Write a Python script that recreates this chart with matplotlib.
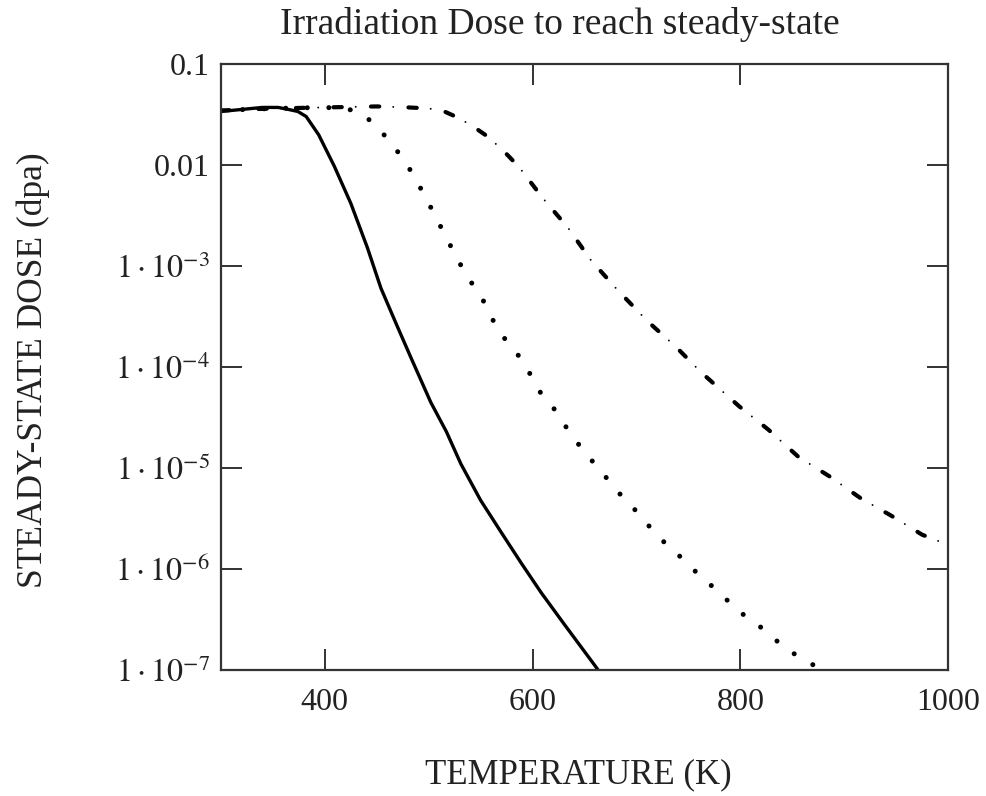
import numpy as np
import matplotlib
matplotlib.use("Agg")
import matplotlib.pyplot as plt
from matplotlib.ticker import FixedLocator, FixedFormatter

plt.rcParams['font.family'] = ['Liberation Serif', 'DejaVu Serif']
plt.rcParams['mathtext.fontset'] = 'stix'

# curve data (temperature in K, log10 of dose in dpa)
t_solid = [300, 320, 340, 355, 365, 374, 382, 394, 409, 425, 441, 454, 469, 483, 502,
           517, 531, 550, 570, 589, 608, 630, 661, 670]
logd_solid = [-1.47, -1.45, -1.43, -1.43, -1.45, -1.47, -1.52, -1.70, -2.01, -2.38, -2.82,
              -3.22, -3.58, -3.91, -4.35, -4.64, -4.96, -5.32, -5.64, -5.94, -6.23, -6.54,
              -6.97, -7.10]

t_dot = [300, 350, 400, 420, 430, 437, 452, 465, 477, 488, 500, 511, 520, 537, 549, 565,
         576, 590, 608, 622, 632, 646, 659, 673, 686, 702, 715, 731, 747, 763, 779, 795,
         812, 827, 843, 861, 878, 885]
logd_dot = [-1.46, -1.44, -1.43, -1.44, -1.47, -1.50, -1.64, -1.80, -1.96, -2.15, -2.38,
            -2.60, -2.78, -3.11, -3.27, -3.60, -3.76, -3.93, -4.26, -4.43, -4.59, -4.79,
            -4.95, -5.12, -5.28, -5.45, -5.61, -5.78, -5.92, -6.09, -6.22, -6.39, -6.52,
            -6.63, -6.79, -6.89, -7.00, -7.05]

t_dd = [300, 350, 400, 450, 480, 500, 515, 528, 543, 557, 572, 587, 610, 634, 656, 682,
        711, 738, 762, 799, 827, 856, 887, 916, 945, 975, 1000]
logd_dd = [-1.46, -1.44, -1.43, -1.42, -1.43, -1.44, -1.47, -1.53, -1.62, -1.72, -1.86,
           -2.02, -2.33, -2.62, -2.94, -3.24, -3.55, -3.80, -4.05, -4.39, -4.62, -4.89,
           -5.09, -5.30, -5.47, -5.66, -5.76]

x_ticks = [300, 400, 600, 800, 1000]
x_ticklabels = ['', '400', '600', '800', '1000']
y_ticks = [1e-7, 1e-6, 1e-5, 1e-4, 1e-3, 1e-2, 1e-1]
y_ticklabels = [r'$1\cdot10^{-7}$', r'$1\cdot10^{-6}$', r'$1\cdot10^{-5}$',
                r'$1\cdot10^{-4}$', r'$1\cdot10^{-3}$', '0.01', '0.1']

fig = plt.figure(figsize=(9.86, 7.96), dpi=100)
ax = fig.add_axes([221 / 986, 1 - 670 / 796, (948 - 221) / 986, (670 - 64) / 796])

ax.plot(t_solid, 10 ** np.array(logd_solid), color='black', lw=2.4,
        solid_capstyle='butt', solid_joinstyle='round')
lw_o = 3.6
ax.plot(t_dot, 10 ** np.array(logd_dot), color='black', lw=lw_o,
        linestyle=(0, (0.01, 15.5 / lw_o)), dash_capstyle='round')
# dash-dot: thick dashes plus thin dots in between
lw_d, lw_p = 3.0, 1.4
ax.plot(t_dd, 10 ** np.array(logd_dd), color='black', lw=lw_d,
        linestyle=(0, (6 / lw_d, 21 / lw_d)), dash_capstyle='round')
ax.plot(t_dd, 10 ** np.array(logd_dd), color='black', lw=lw_p,
        linestyle=(-16 / lw_p, (0.01, 27 / lw_p)), dash_capstyle='round')

ax.set_yscale('log')
ax.set_xlim(300, 1000)
ax.set_ylim(1e-7, 0.1)
ax.xaxis.set_major_locator(FixedLocator(x_ticks))
ax.xaxis.set_major_formatter(FixedFormatter(x_ticklabels))
ax.yaxis.set_major_locator(FixedLocator(y_ticks))
ax.yaxis.set_major_formatter(FixedFormatter(y_ticklabels))
ax.yaxis.set_minor_locator(FixedLocator([]))

ax.tick_params(which='major', direction='in', length=15, width=1.3,
               top=True, right=True, labelsize=23, colors='#222222')
ax.tick_params(axis='x', pad=13)
ax.tick_params(axis='y', pad=8)
for s in ax.spines.values():
    s.set_linewidth(1.6)
    s.set_color('#333333')

fig.text(560 / 986, 1 - 25 / 796, 'Irradiation Dose to reach steady-state',
         ha='center', va='center', fontsize=27, color='#222222')
fig.text(578 / 986, 1 - 775 / 796, 'TEMPERATURE (K)', ha='center', va='center',
         fontsize=25, color='#222222')
fig.text(33 / 986, 1 - 370 / 796, 'STEADY-STATE DOSE (dpa)', ha='center', va='center',
         rotation=90, fontsize=25.5, color='#222222')

fig.savefig('out.png', dpi=100)
